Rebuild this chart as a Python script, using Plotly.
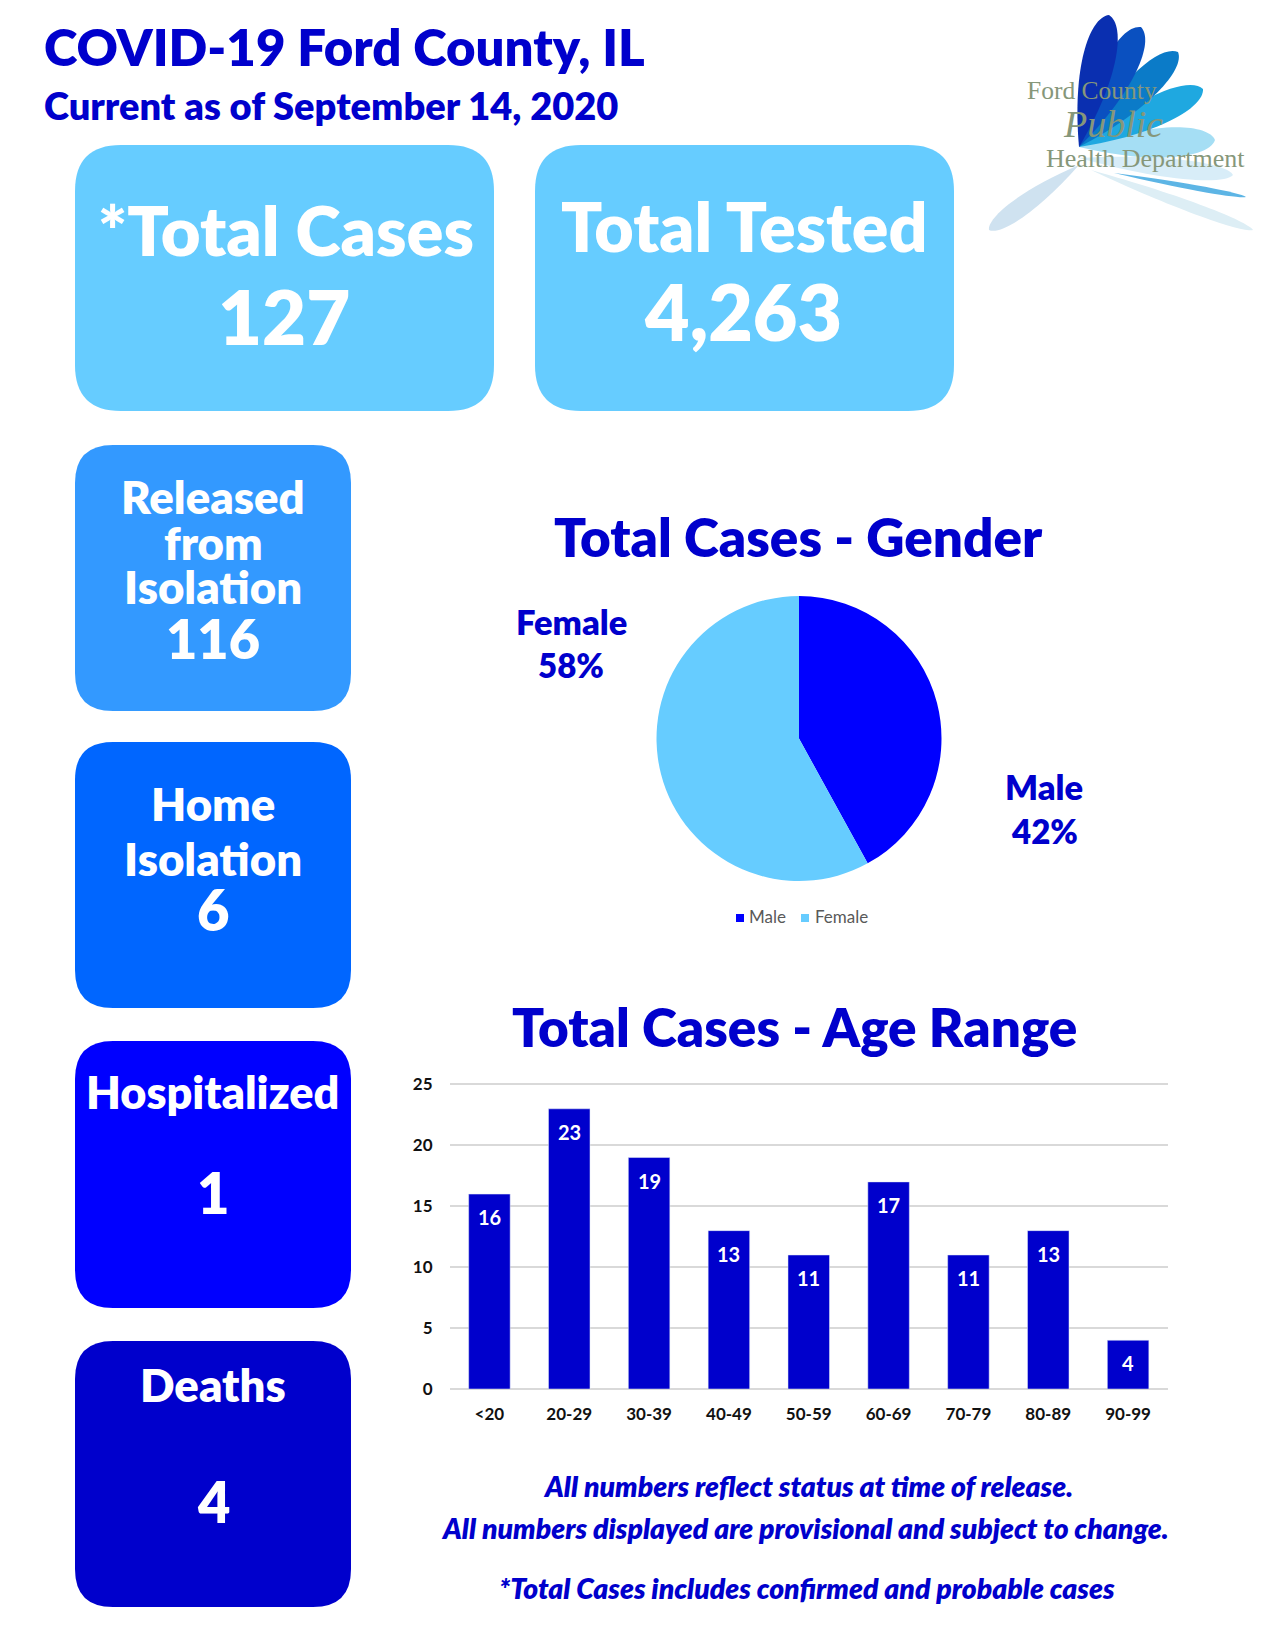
import plotly.graph_objects as go

W = 1265
H = 1637

# chart values
age_ranges = ["<20", "20-29", "30-39", "40-49", "50-59", "60-69", "70-79", "80-89", "90-99"]
age_cases = [16, 23, 19, 13, 11, 17, 11, 13, 4]
gender_labels = ["Male", "Female"]
gender_pct = [42, 58]
gender_colors = ["#0000FF", "#66CCFF"]

title = "COVID-19 Ford County, IL"
subtitle = "Current as of September 14, 2020"
total_cases = "127"
total_tested = "4,263"
released = "116"
home_isolation = "6"
hospitalized = "1"
deaths = "4"

BLUE = "#0000CC"
FONT = "Lato"
LOGO_TEXT = "#86977A"


def px(x):
    return x / W


def py(y):
    return 1 - y / H


def label(x, y, text, size, color="white", italic=False, family=FONT, weight=800, anchor="center"):
    return dict(
        x=px(x), y=py(y - 2.5), xref="paper", yref="paper", text=text, showarrow=False,
        xanchor=anchor, yanchor="middle",
        font=dict(family=family, size=size, color=color, weight=weight,
                  style="italic" if italic else "normal"),
    )


def round_box(x0, y0, x1, y1, r, color):
    path = (
        f"M {px(x0 + r)} {py(y0)} L {px(x1 - r)} {py(y0)} "
        f"Q {px(x1)} {py(y0)} {px(x1)} {py(y0 + r)} L {px(x1)} {py(y1 - r)} "
        f"Q {px(x1)} {py(y1)} {px(x1 - r)} {py(y1)} L {px(x0 + r)} {py(y1)} "
        f"Q {px(x0)} {py(y1)} {px(x0)} {py(y1 - r)} L {px(x0)} {py(y0 + r)} "
        f"Q {px(x0)} {py(y0)} {px(x0 + r)} {py(y0)} Z"
    )
    return dict(type="path", path=path, xref="paper", yref="paper", fillcolor=color, line_width=0, layer="below")


def petal(x0, y0, x1, y1, w, color, opacity=1.0):
    # leaf shape for the logo
    dx, dy = x1 - x0, y1 - y0
    nx, ny = -dy, dx
    n = (nx ** 2 + ny ** 2) ** 0.5
    nx, ny = nx / n * w, ny / n * w
    a1 = (x0 + dx * 0.55 + nx, y0 + dy * 0.55 + ny)
    a2 = (x0 + dx * 0.95 + nx * 0.8, y0 + dy * 0.95 + ny * 0.8)
    b1 = (x0 + dx * 0.95 - nx * 0.8, y0 + dy * 0.95 - ny * 0.8)
    b2 = (x0 + dx * 0.55 - nx, y0 + dy * 0.55 - ny)
    path = (
        f"M {px(x0)} {py(y0)} C {px(a1[0])} {py(a1[1])} {px(a2[0])} {py(a2[1])} {px(x1)} {py(y1)} "
        f"C {px(b1[0])} {py(b1[1])} {px(b2[0])} {py(b2[1])} {px(x0)} {py(y0)} Z"
    )
    return dict(type="path", path=path, xref="paper", yref="paper", fillcolor=color, opacity=opacity, line_width=0, layer="below")


def swatch(x, y, color):
    return dict(type="rect", x0=px(x), x1=px(x + 8), y0=py(y + 4), y1=py(y - 4), xref="paper", yref="paper",
                fillcolor=color, line_width=0)


fig = go.Figure()

fig.add_trace(go.Pie(
    labels=gender_labels, values=gender_pct, sort=False, direction="clockwise", rotation=0,
    marker=dict(colors=gender_colors), textinfo="none",
    domain=dict(x=[px(799 - 142.5), px(799 + 142.5)], y=[py(738.5 + 142.5), py(738.5 - 142.5)]),
    showlegend=False,
))

fig.add_trace(go.Bar(x=age_ranges, y=age_cases, marker_color=BLUE, showlegend=False))

shapes = [
    round_box(75, 145, 494, 411, 46, "#66CCFF"),
    round_box(535, 145, 954, 411, 46, "#66CCFF"),
    round_box(75, 445, 351, 711, 38, "#3399FF"),
    round_box(75, 742, 351, 1008, 38, "#0066FF"),
    round_box(75, 1041, 351, 1308, 38, "#0000FF"),
    round_box(75, 1341, 351, 1607, 38, "#0000CC"),
    # logo
    petal(1079, 165, 989, 230, 14, "#CFE2F0"),
    petal(1091, 170, 1253, 230, 8, "#DDEEF5"),
    petal(1079, 158, 1233, 175, 14, "#D8EDF8"),
    petal(1114, 173, 1246, 197, 4, "#5DB5E5"),
    petal(1079, 147, 1215, 140, 22, "#A5DEF4"),
    petal(1079, 147, 1203, 89, 22, "#1FA8E0"),
    petal(1079, 147, 1178, 52, 22, "#0B7BC8"),
    petal(1079, 147, 1141, 27, 24, "#0A50C0"),
    petal(1079, 147, 1109, 15, 24, "#0A2FB0"),
    swatch(736, 918, gender_colors[0]),
    swatch(801, 918, gender_colors[1]),
]

annotations = [
    label(42, 49, title, 50.9, BLUE, anchor="left"),
    label(42, 107, subtitle, 38, BLUE, anchor="left"),
    label(286, 232, "*Total Cases", 68.6),
    label(284, 318, total_cases, 76),
    label(744, 228, "Total Tested", 68),
    label(743, 313, total_tested, 77),
    label(213, 499, "Released", 45.5),
    label(213, 545, "from", 45.5),
    label(213, 589, "Isolation", 45.5),
    label(213, 641, released, 54),
    label(213, 806, "Home", 45.5),
    label(213, 861, "Isolation", 45.5),
    label(213, 912, home_isolation, 56),
    label(212, 1094, "Hospitalized", 45),
    label(213, 1195, hospitalized, 56),
    label(213, 1387, "Deaths", 45.5),
    label(213, 1504, deaths, 56),
    label(798, 539, "Total Cases - Gender", 53, BLUE),
    label(794, 1029, "Total Cases - Age Range", 53, BLUE),
    label(571, 624, "Female", 34.5, BLUE),
    label(571, 667, f"{gender_pct[1]}%", 33, BLUE),
    label(1044, 789, "Male", 34.5, BLUE),
    label(1044, 833, f"{gender_pct[0]}%", 33, BLUE),
    label(747, 919, "Male", 17, "#595959", weight=400, anchor="left"),
    label(813, 919, "Female", 17, "#595959", weight=400, anchor="left"),
    label(808, 1488, "All numbers reflect status at time of release.", 28.3, BLUE, italic=True),
    label(805, 1530, "All numbers displayed are provisional and subject to change.", 28.3, BLUE, italic=True),
    label(807, 1590, "*Total Cases includes confirmed and probable cases", 28.3, BLUE, italic=True),
    label(1092, 93, "Ford County", 25.5, LOGO_TEXT, family="Liberation Serif", weight=400),
    label(1113, 127, "Public", 38, LOGO_TEXT, italic=True, family="Liberation Serif", weight=400),
    label(1145, 161, "Health Department", 26, LOGO_TEXT, family="Liberation Serif", weight=400),
]

# value labels sit inside the bars, a little below the top
for cat, val in zip(age_ranges, age_cases):
    annotations.append(dict(
        x=cat, y=val, xref="x", yref="y", text=str(val), showarrow=False, yshift=-23,
        font=dict(family=FONT, size=20, color="white", weight=700),
    ))

fig.update_layout(
    width=W, height=H, margin=dict(l=0, r=0, t=0, b=0, autoexpand=False),
    paper_bgcolor="white", plot_bgcolor="white",
    shapes=shapes, annotations=annotations,
    bargap=0.48, hovermode=False,
    xaxis=dict(domain=[px(449.5), px(1168)], showgrid=False, showline=False, ticks="",
               ticklabelstandoff=13, tickfont=dict(family=FONT, size=17, color="#111111", weight=700)),
    # range goes a bit past 25 so the top gridline is still drawn
    yaxis=dict(domain=[py(1389), py(1082)], range=[0, 25.2], dtick=5, gridcolor="#D9D9D9", gridwidth=1.5,
               zeroline=True, zerolinecolor="#D9D9D9", zerolinewidth=2, ticks="", ticklabelstandoff=16,
               tickfont=dict(family=FONT, size=17, color="#111111", weight=700)),
)

fig.write_html("out.html", config=dict(displayModeBar=False), post_script="document.body.style.margin='0';")
